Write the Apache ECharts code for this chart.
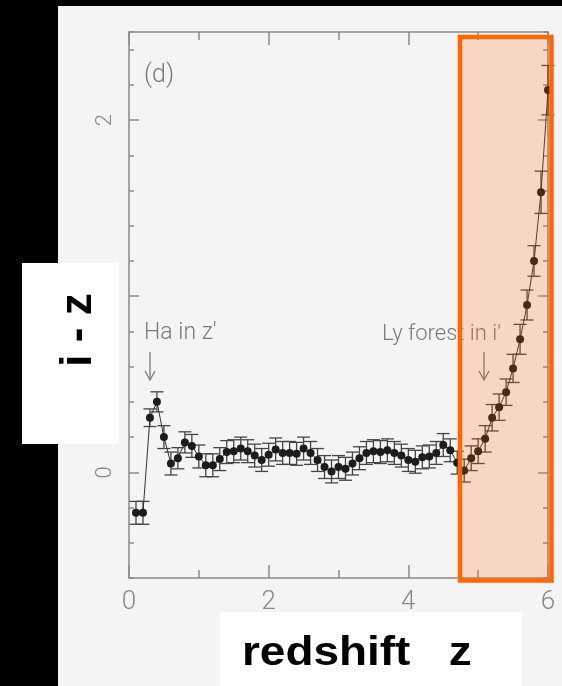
<!DOCTYPE html>
<html>
<head>
<meta charset="utf-8">
<title>i - z vs redshift</title>
<script src="https://cdn.jsdelivr.net/npm/echarts@6/dist/echarts.min.js"></script>
<style>
  html, body { margin: 0; padding: 0; background: #000; }
  #chart { width: 562px; height: 686px; }
</style>
</head>
<body>
<div id="chart"></div>
<script>
  // redshift of each point of the track
  var redshift = [
    0.1, 0.2, 0.3, 0.4, 0.5, 0.6, 0.7, 0.8, 0.9, 1.0,
    1.1, 1.2, 1.3, 1.4, 1.5, 1.6, 1.7, 1.8, 1.9, 2.0,
    2.1, 2.2, 2.3, 2.4, 2.5, 2.6, 2.7, 2.8, 2.9, 3.0,
    3.1, 3.2, 3.3, 3.4, 3.5, 3.6, 3.7, 3.8, 3.9, 4.0,
    4.1, 4.2, 4.3, 4.4, 4.5, 4.6, 4.7, 4.8, 4.9, 5.0,
    5.1, 5.2, 5.3, 5.4, 5.5, 5.6, 5.7, 5.8, 5.9, 6.0
  ];
  // i - z colour
  var colour = [
    -0.23, -0.23, 0.31, 0.40, 0.20, 0.05, 0.08, 0.17, 0.15, 0.09,
    0.04, 0.04, 0.075, 0.115, 0.12, 0.135, 0.12, 0.095, 0.07, 0.10,
    0.13, 0.11, 0.11, 0.105, 0.135, 0.11, 0.07, 0.03, 0.005, 0.03,
    0.02, 0.05, 0.08, 0.11, 0.12, 0.115, 0.125, 0.11, 0.095, 0.07,
    0.06, 0.085, 0.09, 0.11, 0.155, 0.125, 0.055, 0.01, 0.08, 0.12,
    0.19, 0.31, 0.37, 0.455, 0.59, 0.755, 0.95, 1.20, 1.59, 2.17
  ];
  // error bar half length
  var colourErr = [
    0.065, 0.065, 0.05, 0.057, 0.065, 0.065, 0.06, 0.06, 0.065, 0.065,
    0.065, 0.065, 0.065, 0.065, 0.065, 0.065, 0.065, 0.065, 0.065, 0.065,
    0.065, 0.065, 0.065, 0.065, 0.065, 0.065, 0.065, 0.065, 0.065, 0.065,
    0.065, 0.065, 0.065, 0.065, 0.065, 0.065, 0.065, 0.065, 0.065, 0.065,
    0.065, 0.065, 0.065, 0.065, 0.065, 0.065, 0.065, 0.065, 0.07, 0.07,
    0.075, 0.075, 0.075, 0.075, 0.08, 0.085, 0.085, 0.087, 0.12, 0.14
  ];
  var xTickLabels = [0, 2, 4, 6];
  var yTickLabels = [0, 2];
  var yMajorTicks = [0, 1, 2];

  var points = redshift.map(function (z, i) { return [z, colour[i]]; });
  var bars = redshift.map(function (z, i) { return [z, colour[i], colourErr[i]]; });

  var axisGray = "#8a8a8a";
  var thin = "Roboto, 'DejaVu Sans', sans-serif";

  var chart = echarts.init(document.getElementById("chart"));

  function xAxisOpt(pos, labels) {
    return {
      type: "value",
      position: pos,
      min: 0,
      max: 6,
      interval: 2,
      axisLine: { show: true, onZero: false, lineStyle: { color: axisGray, width: 1.5 } },
      axisTick: { show: true, inside: true, length: 13, lineStyle: { color: axisGray, width: 1.5 } },
      minorTick: { show: true, splitNumber: 2, length: 8, lineStyle: { color: axisGray, width: 1.5 } },
      axisLabel: {
        show: labels,
        customValues: xTickLabels,
        margin: 11,
        fontSize: 26,
        fontFamily: thin,
        fontWeight: 300,
        color: "#888"
      },
      splitLine: { show: false }
    };
  }

  function yMinor(pos) {
    return {
      type: "value",
      position: pos,
      min: -0.6,
      max: 2.5,
      interval: 0.2,
      axisLine: { show: true, onZero: false, lineStyle: { color: axisGray, width: 1.5 } },
      axisTick: { show: true, inside: true, length: 5, lineStyle: { color: axisGray, width: 1.5 } },
      axisLabel: { show: false },
      splitLine: { show: false }
    };
  }

  function yMajor(pos, labels) {
    return {
      type: "value",
      position: pos,
      min: -0.6,
      max: 2.5,
      axisLine: { show: false, onZero: false },
      axisTick: { show: true, inside: true, length: 10, customValues: yMajorTicks, lineStyle: { color: axisGray, width: 1.5 } },
      axisLabel: {
        show: labels,
        customValues: yTickLabels,
        rotate: 90,
        margin: 13,
        fontSize: 22,
        fontFamily: thin,
        fontWeight: 300,
        color: "#888"
      },
      splitLine: { show: false }
    };
  }

  chart.setOption({
    backgroundColor: "#000",
    animation: false,
    grid: { left: 129, top: 32, width: 419, height: 546 },
    xAxis: [xAxisOpt("bottom", true), xAxisOpt("top", false)],
    yAxis: [yMinor("left"), yMajor("left", true), yMinor("right"), yMajor("right", false)],
    series: [
      {
        type: "custom",
        name: "error",
        xAxisIndex: 0,
        yAxisIndex: 0,
        z: 3,
        renderItem: function (params, api) {
          var x = api.value(0), y = api.value(1), e = api.value(2);
          var hi = api.coord([x, y + e]);
          var lo = api.coord([x, y - e]);
          var hw = 6.5;
          var st = { stroke: "#454545", lineWidth: 1.3 };
          return {
            type: "group",
            children: [
              { type: "line", shape: { x1: hi[0], y1: hi[1], x2: lo[0], y2: lo[1] }, style: st },
              { type: "line", shape: { x1: hi[0] - hw, y1: hi[1], x2: hi[0] + hw, y2: hi[1] }, style: st },
              { type: "line", shape: { x1: lo[0] - hw, y1: lo[1], x2: lo[0] + hw, y2: lo[1] }, style: st }
            ]
          };
        },
        data: bars
      },
      {
        type: "line",
        name: "i-z",
        xAxisIndex: 0,
        yAxisIndex: 0,
        z: 4,
        symbol: "circle",
        symbolSize: 8,
        itemStyle: { color: "#1c1c1c" },
        lineStyle: { color: "#333", width: 1 },
        data: points
      }
    ],
    graphic: [
      { type: "rect", z: -10, shape: { x: 58, y: 6, width: 504, height: 680 }, style: { fill: "#f4f4f4" } },
      { type: "text", z: 20, x: 144, y: 88, style: { text: "(d)", font: "300 25px " + thin, fill: "#7a7a7a", verticalAlign: "bottom" } },
      { type: "text", z: 20, x: 144, y: 345, style: { text: "Ha in z'", font: "300 23px " + thin, fill: "#7a7a7a", verticalAlign: "bottom" } },
      { type: "polyline", z: 20, shape: { points: [[150, 352], [150, 380]] }, style: { stroke: "#7a7a7a", lineWidth: 1.3, fill: null } },
      { type: "polyline", z: 20, shape: { points: [[145, 371], [150, 380], [155, 371]] }, style: { stroke: "#7a7a7a", lineWidth: 1.3, fill: null } },
      { type: "text", z: 20, x: 382, y: 345, style: { text: "Ly forest in i'", font: "300 22px " + thin, fill: "#7a7a7a", verticalAlign: "bottom" } },
      { type: "polyline", z: 20, shape: { points: [[484, 352], [484, 380]] }, style: { stroke: "#7a7a7a", lineWidth: 1.3, fill: null } },
      { type: "polyline", z: 20, shape: { points: [[479, 371], [484, 380], [489, 371]] }, style: { stroke: "#7a7a7a", lineWidth: 1.3, fill: null } },
      { type: "rect", z: 100, shape: { x: 460, y: 37, width: 91.5, height: 543.5 }, style: { fill: "rgba(255,102,0,0.2)", stroke: "#ff6600", lineWidth: 4.5 } },
      { type: "rect", z: 50, shape: { x: 22, y: 263, width: 97, height: 181 }, style: { fill: "#fff" } },
      { type: "text", z: 51, x: 79, y: 330, rotation: Math.PI / 2, style: { text: "i - z", font: "bold 44px 'Liberation Sans', Arial, sans-serif", fill: "#000", align: "center", verticalAlign: "middle" } },
      { type: "rect", z: 50, shape: { x: 220, y: 612, width: 302, height: 74 }, style: { fill: "#fff" } },
      { type: "text", z: 51, x: 242, y: 654, scaleX: 1.12, style: { text: "redshift   z", font: "bold 41px 'Liberation Sans', Arial, sans-serif", fill: "#000", align: "left", verticalAlign: "middle" } }
    ]
  });
</script>
</body>
</html>
